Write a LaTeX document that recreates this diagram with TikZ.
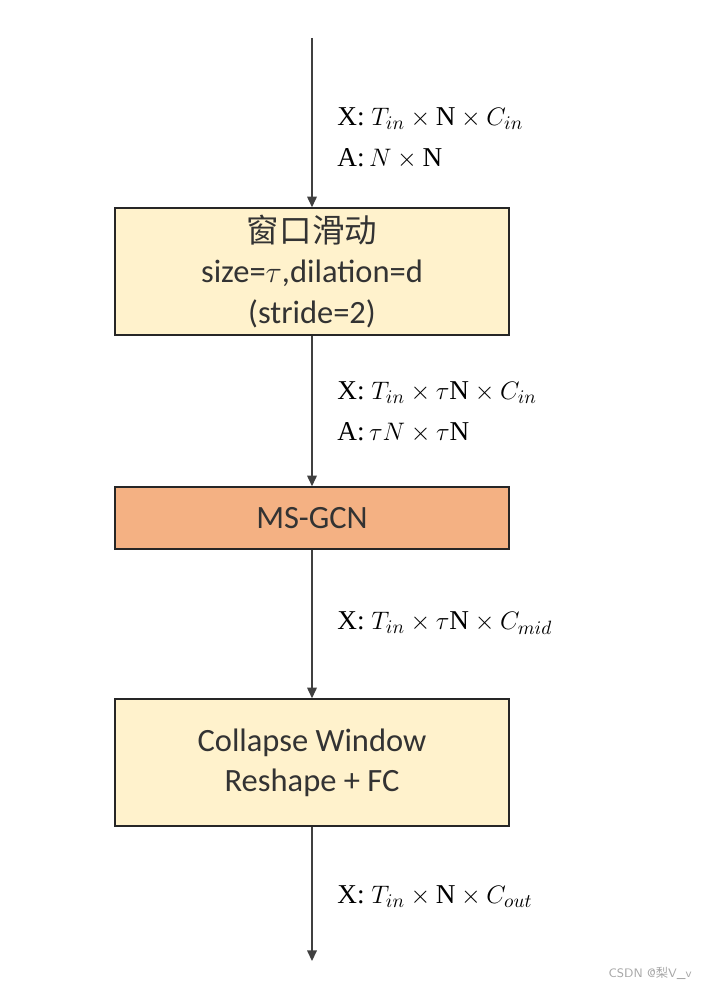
\documentclass[tikz,border=0pt]{standalone}
\usepackage{fontspec}
\setmainfont{Liberation Serif}
\newfontfamily\boxfont{Carlito}
\newfontfamily\cjk{Noto Sans CJK SC}
\usepackage{xcolor}
\usetikzlibrary{positioning, arrows.meta}

\definecolor{boxyellow}{HTML}{FFF2CC}
\definecolor{boxorange}{HTML}{F4B183}
\definecolor{linegray}{HTML}{404040}

\begin{document}
\begin{tikzpicture}[
    x=0.02cm, y=-0.02cm,
    >={Triangle[length=6pt, width=5.5pt]},
    blk/.style={
      draw=black!85, line width=0.9pt,
      minimum width=7.88cm, minimum height=2.54cm,
      align=center, text=black!80,
      font=\boxfont\fontsize{18.5}{22.8}\selectfont},
    slidebox/.style={blk, fill=boxyellow},
    gcnbox/.style={blk, fill=boxorange, minimum height=1.24cm},
    collapsebox/.style={blk, fill=boxyellow},
    arr/.style={->, line width=0.7pt, draw=linegray},
    dims/.style={anchor=west, align=left, inner sep=0pt,
                 font=\fontsize{15.5}{23.3}\selectfont},
]
\useasboundingbox (0,0) rectangle (701,986);

% Blocks
\node[slidebox] (slide) at (312, 271.5)
  {{\cjk 窗口滑动}\\size=$\tau$,dilation=d\\(stride=2)};
\node[gcnbox] (gcn) at (312, 518) {MS-GCN};
\node[collapsebox] (collapse) at (312, 762.5)
  {Collapse Window\\Reshape + FC};

% Free ends
\coordinate (in)  at (312, 38);
\coordinate (out) at (312, 961);

% Flow
\draw[arr] (in) -- (slide);
\draw[arr] (slide) -- (gcn);
\draw[arr] (gcn) -- (collapse);
\draw[arr] (collapse) -- (out);

% Tensor shapes
\node[dims] (dimA) at (337, 138)
  {X: $T_{in}\times\mathrm{N}\times C_{in}$\\
   A:\,$N\times\mathrm{N}$};
\node[dims] (dimB) at (337, 412)
  {X: $T_{in}\times\tau\mathrm{N}\times C_{in}$\\
   A:\,$\tau N\times\tau\mathrm{N}$};
\node[dims] (dimC) at (337, 623)
  {X: $T_{in}\times\tau\mathrm{N}\times C_{mid}$};
\node[dims] (dimD) at (337, 897)
  {X: $T_{in}\times\mathrm{N}\times C_{out}$};

% Watermark
\node[anchor=east, inner sep=0pt, text=black!35,
      font=\sffamily\fontsize{7}{8}\selectfont] (mark) at (692, 973)
  {CSDN @{\cjk 梨}V\_v};

\end{tikzpicture}
\end{document}
